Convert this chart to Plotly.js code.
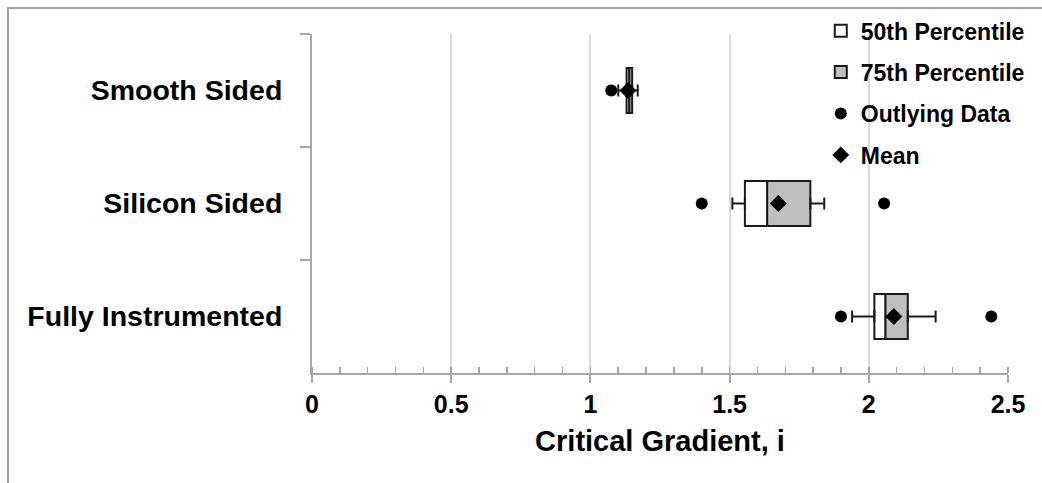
<!DOCTYPE html>
<html>
<head>
<meta charset="utf-8">
<script src="https://cdn.plot.ly/plotly-3.0.1.min.js"></script>
<style>
  html, body { margin: 0; padding: 0; background: #ffffff; }
  #chart { width: 1042px; height: 483px; }
</style>
</head>
<body>
<div id="chart"></div>
<script>
// ---- data ----
const categories   = ["Smooth Sided", "Silicon Sided", "Fully Instrumented"];
const q1           = [1.13, 1.555, 2.02];
const median       = [1.14, 1.635, 2.06];
const q3           = [1.15, 1.79, 2.14];
const whiskerLow   = [1.10, 1.51, 1.94];
const whiskerHigh  = [1.17, 1.84, 2.24];
const meanValues   = [1.135, 1.675, 2.09];
const outlierX     = [1.075, 1.40, 2.055, 1.90, 2.44];
const outlierY     = ["Smooth Sided", "Silicon Sided", "Silicon Sided", "Fully Instrumented", "Fully Instrumented"];
const xTickValues  = [0, 0.5, 1, 1.5, 2, 2.5];
const xTickLabels  = ["0", "0.5", "1", "1.5", "2", "2.5"];

const FONT = "Liberation Sans, Arial, sans-serif";
const AXIS_GRAY = "#a6a6a6";

const lowerLen = q1.map((v, i) => median[i] - v);
const upperLen = median.map((v, i) => q3[i] - v);
const lowWhisk = q1.map((v, i) => v - whiskerLow[i]);
const highWhisk = q3.map((v, i) => whiskerHigh[i] - v);
const zeros = categories.map(() => 0);

const traces = [
  {
    type: "bar", orientation: "h", name: "50th Percentile",
    y: categories, x: lowerLen, base: q1, width: 0.4,
    marker: { color: "#ffffff", line: { color: "#1a1a1a", width: 2 } },
    legendgroup: "a", hoverinfo: "skip"
  },
  {
    type: "bar", orientation: "h", name: "75th Percentile",
    y: categories, x: upperLen, base: median, width: 0.4,
    marker: { color: "#bfbfbf", line: { color: "#1a1a1a", width: 2 } },
    legendgroup: "b", hoverinfo: "skip"
  },
  {
    type: "scatter", mode: "markers", showlegend: false,
    y: categories, x: q1,
    marker: { size: 1, opacity: 0 },
    error_x: { type: "data", symmetric: false, array: zeros, arrayminus: lowWhisk,
               color: "#1a1a1a", thickness: 2, width: 6 },
    hoverinfo: "skip"
  },
  {
    type: "scatter", mode: "markers", showlegend: false,
    y: categories, x: q3,
    marker: { size: 1, opacity: 0 },
    error_x: { type: "data", symmetric: false, array: highWhisk, arrayminus: zeros,
               color: "#1a1a1a", thickness: 2, width: 6 },
    hoverinfo: "skip"
  },
  {
    type: "scatter", mode: "markers", name: "Outlying Data",
    y: outlierY, x: outlierX,
    marker: { symbol: "circle", size: 12, color: "#000000" },
    legendgroup: "c"
  },
  {
    type: "scatter", mode: "markers", name: "Mean",
    y: categories, x: meanValues,
    marker: { symbol: "diamond", size: 13, color: "#000000" },
    legendgroup: "d"
  }
];

const layout = {
  width: 1042, height: 483,
  margin: { l: 312, r: 34, t: 34, b: 110, pad: 0, autoexpand: false },
  paper_bgcolor: "#ffffff", plot_bgcolor: "#ffffff",
  font: { family: FONT, color: "#000000" },
  barmode: "overlay",
  showlegend: true,
  legend: {
    x: 0.731, xanchor: "left", y: 1.073, yanchor: "top",
    bgcolor: "rgba(0,0,0,0)", borderwidth: 0,
    font: { family: FONT, size: 23, color: "#000000", weight: "bold" },
    traceorder: "grouped", tracegroupgap: 8.5
  },
  xaxis: {
    range: [0, 2.5], tickvals: xTickValues, ticktext: xTickLabels,
    showline: true, linecolor: AXIS_GRAY, linewidth: 2,
    ticks: "outside", ticklen: 8, tickwidth: 2, tickcolor: AXIS_GRAY,
    showgrid: true, gridcolor: "#d9d9d9", gridwidth: 2,
    zeroline: false,
    minor: { dtick: 0.1, tick0: 0, ticks: "inside", ticklen: 6, tickwidth: 1.5, tickcolor: AXIS_GRAY, showgrid: false },
    tickfont: { family: FONT, size: 25, color: "#000000", weight: "bold" },
    title: { text: "Critical Gradient, i", font: { family: FONT, size: 29, color: "#000000", weight: "bold" }, standoff: 14 }
  },
  yaxis: {
    type: "category", categoryorder: "array", categoryarray: categories,
    range: [2.5, -0.5],
    showline: true, linecolor: AXIS_GRAY, linewidth: 2,
    ticks: "outside", ticklen: 10, tickwidth: 2, tickcolor: AXIS_GRAY,
    tickson: "boundaries",
    showgrid: false, zeroline: false,
    ticklabelstandoff: 22,
    tickfont: { family: FONT, size: 28.5, color: "#000000", weight: "bold" }
  },
  shapes: [
    {
      type: "rect", xref: "paper", yref: "paper",
      x0: -0.4368, x1: 1.07, y0: -0.36, y1: 1.0767,
      line: { color: "#a0a0a0", width: 2 }, fillcolor: "rgba(0,0,0,0)", layer: "above"
    }
  ]
};

Plotly.newPlot("chart", traces, layout, { staticPlot: true, displayModeBar: false });
</script>
</body>
</html>
